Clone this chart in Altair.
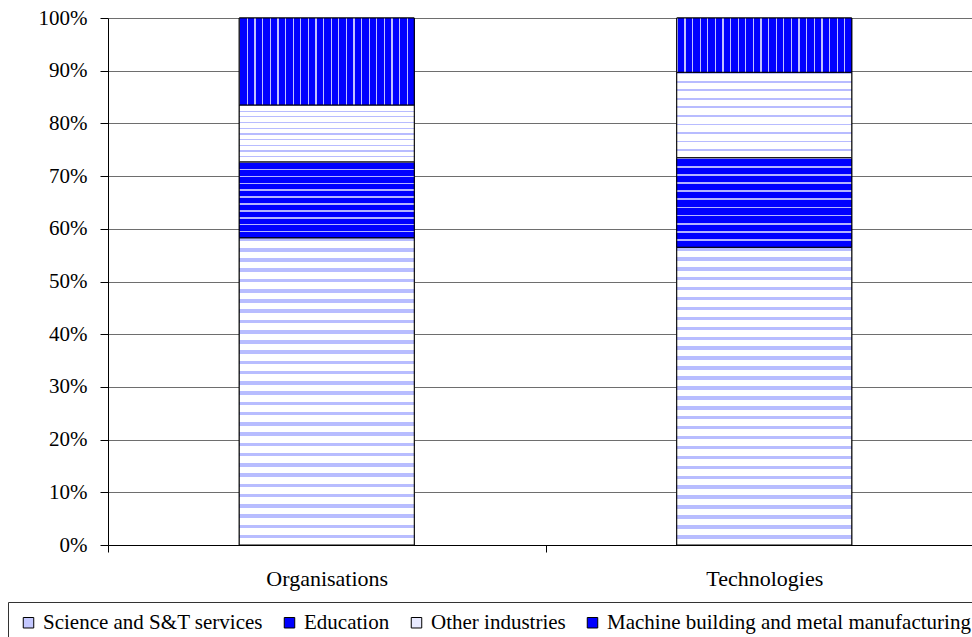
import altair as alt
import pandas as pd

# Shares (%) of each sector, bottom to top of each stacked column
categories = ["Organisations", "Technologies"]
series = [
    "Science and S&T services",
    "Education",
    "Other industries",
    "Machine building and metal manufacturing",
]
organisations = [58.3, 14.4, 10.8, 16.5]
technologies = [56.5, 17.0, 16.2, 10.3]

# Solid swatches for the legend (average tone of each hatch)
swatch_colors = ["#c4c8ff", "#0000ff", "#e8eaff", "#0000ff"]

SERIF = "Liberation Serif, Times New Roman, serif"

rows = []
for cat, vals in zip(categories, [organisations, technologies]):
    for i, (s, v) in enumerate(zip(series, vals)):
        rows.append({"category": cat, "series": s, "order": i, "share": v})
df = pd.DataFrame(rows)


def stripes(ground, line, count, frac, horizontal=True):
    """Hard-stop linear gradient that imitates a hatch fill."""
    stops = []
    for k in range(count):
        a = k / count
        b = (k + frac) / count
        c = (k + 1) / count
        stops += [
            {"offset": a, "color": line},
            {"offset": b, "color": line},
            {"offset": b, "color": ground},
            {"offset": c, "color": ground},
        ]
    if horizontal:
        return {"gradient": "linear", "x1": 0, "y1": 0, "x2": 0, "y2": 1, "stops": stops}
    return {"gradient": "linear", "x1": 0, "y1": 0, "x2": 1, "y2": 0, "stops": stops}


hatch = {
    series[0]: stripes("#ffffff", "#b8bdff", 30, 0.35),
    series[1]: stripes("#0000ff", "#b4b4ff", 11, 0.22),
    series[2]: stripes("#ffffff", "#b8bcff", 10, 0.2),
    series[3]: stripes("#0000ff", "#c0c0ff", 23, 0.16, horizontal=False),
}

base = alt.Chart(df).transform_stack(
    stack="share",
    groupby=["category"],
    as_=["y0", "y1"],
    sort=[alt.SortField("order")],
    offset="normalize",
)

x_enc = alt.X(
    "category:N",
    sort=categories,
    scale=alt.Scale(range=[0, 875], paddingInner=0, paddingOuter=0),
    axis=alt.Axis(
        title=None,
        labelAngle=0,
        tickBand="extent",
        tickSize=7,
        tickColor="#000000",
        domainColor="#000000",
        labelFont=SERIF,
        labelFontSize=22,
        labelColor="#000000",
        labelPadding=16,
    ),
)
y_enc = alt.Y(
    "y0:Q",
    scale=alt.Scale(domain=[0, 1], nice=False),
    axis=alt.Axis(
        title=None,
        values=[i / 10 for i in range(11)],
        format=".0%",
        tickSize=8,
        tickColor="#000000",
        domainColor="#000000",
        grid=True,
        gridColor="#6e6e6e",
        labelFont=SERIF,
        labelFontSize=21,
        labelColor="#000000",
        labelPadding=13,
    ),
)

solid = base.mark_bar(
    width=alt.RelativeBandSize(0.4), stroke="#000000", strokeWidth=1
).encode(
    x=x_enc,
    y=y_enc,
    y2="y1:Q",
    color=alt.Color(
        "series:N",
        scale=alt.Scale(domain=series, range=swatch_colors),
        legend=alt.Legend(
            title=None,
            orient="none",
            legendX=-100,
            legendY=584,
            direction="horizontal",
            columns=4,
            symbolType="square",
            symbolSize=110,
            symbolStrokeColor="#000000",
            symbolStrokeWidth=1,
            labelFont=SERIF,
            labelFontSize=21,
            labelColor="#000000",
            labelOffset=4,
            labelLimit=0,
            columnPadding=16,
            padding=10,
            strokeColor="#333333",
            fillColor="#ffffff",
        ),
    ),
)

fill_rule = {
    "condition": [
        {"test": f"datum.series === '{s}'", "value": hatch[s]} for s in series[:3]
    ],
    "value": hatch[series[3]],
}

patterned = base.mark_bar(
    width=alt.RelativeBandSize(0.4), stroke="#000000", strokeWidth=1
).encode(
    x=x_enc,
    y=y_enc,
    y2="y1:Q",
    fill=fill_rule,
)

chart = (
    alt.layer(solid, patterned)
    .properties(
        width=864,
        height=527,
        autosize=alt.AutoSizeParams(type="none"),
        padding={"left": 108, "top": 18, "right": 0, "bottom": 92},
        background="#ffffff",
    )
    .configure(font=SERIF)
    .configure_view(stroke=None)
)

chart.save("out.html", embed_options={"renderer": "svg", "actions": False})
